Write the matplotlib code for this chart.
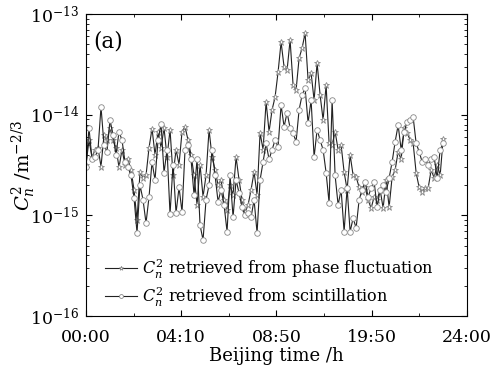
import matplotlib
matplotlib.use("Agg")
import matplotlib.pyplot as plt
from matplotlib.ticker import MultipleLocator
import numpy as np

# Cn2 values in units of 1e-15 m^-2/3
phase = [3.2, 5.6, 3.8, 4.5, 4.7, 3.05, 6.3, 5.6, 7.4, 5.6,
         4.7, 3.0, 4.5, 3.2, 3.6, 2.83, 1.8, 0.90, 2.7, 2.36,
         2.5, 4.7, 7.3, 4.0, 6.8, 4.7, 7.4, 3.8, 7.1, 2.5,
         4.5, 3.2, 6.8, 7.6, 5.6, 4.0, 2.5, 1.27, 3.2, 1.53,
         2.5, 7.1, 3.8, 2.83, 2.0, 2.25, 1.43, 1.13, 2.0, 1.6,
         3.8, 2.25, 1.43, 1.08, 1.27, 1.8, 2.7, 1.6, 6.6, 4.5,
         13.4, 6.8, 11.2, 15.0, 26.6, 52.8, 29.8, 27.8, 55.2, 19.7,
         17.6, 36.5, 45.9, 64.7, 22.1, 25.9, 14.0, 32.6, 15.7, 8.9,
         19.7, 5.2, 5.0, 6.8, 4.5, 5.0, 2.7, 1.8, 4.0, 2.5,
         2.42, 1.9, 1.71, 1.9, 1.43, 1.18, 1.53, 1.43, 1.8, 1.18,
         2.25, 1.21, 2.42, 2.83, 4.3, 3.6, 7.4, 6.6, 5.6, 5.2,
         2.65, 1.9, 1.71, 1.87, 1.87, 2.83, 2.36, 3.2, 2.5, 5.8]

scint = [3.0, 7.4, 3.6, 3.8, 4.5, 12.0, 5.0, 4.3, 8.9, 6.3,
         4.0, 6.8, 5.6, 3.4, 3.0, 2.5, 1.5, 0.67, 2.0, 1.43,
         0.84, 1.53, 3.4, 2.25, 5.6, 8.1, 2.65, 4.5, 1.03, 3.2,
         1.06, 1.9, 1.08, 4.5, 5.0, 3.6, 1.6, 3.6, 0.80, 0.57,
         1.43, 2.0, 4.5, 2.5, 1.37, 1.8, 1.27, 0.69, 2.5, 0.96,
         2.25, 1.67, 1.21, 1.01, 1.06, 0.96, 1.43, 0.67, 2.25, 3.4,
         5.2, 3.6, 4.5, 5.6, 4.8, 12.5, 7.6, 10.5, 7.4, 6.6,
         5.4, 11.2, 15.7, 18.4, 8.3, 14.0, 3.8, 7.1, 5.6, 4.5,
         2.65, 1.33, 14.0, 2.5, 1.27, 1.8, 0.69, 1.87, 0.69, 0.94,
         0.75, 1.43, 1.8, 2.15, 1.53, 1.87, 2.15, 1.21, 1.8, 2.0,
         1.71, 2.36, 3.4, 5.4, 7.9, 4.5, 6.8, 8.5, 8.9, 9.5,
         5.2, 4.3, 3.4, 3.6, 3.2, 3.6, 3.8, 2.36, 4.5, 5.2]

phase = np.array(phase) * 1e-15
scint = np.array(scint) * 1e-15
t = np.linspace(0, 22.5, len(phase))

xtick_pos = [0, 6, 12, 18, 24]
xtick_labels = ['00:00', '04:10', '08:50', '19:50', '24:00']

plt.rcParams['font.family'] = 'DejaVu Serif'
plt.rcParams['mathtext.fontset'] = 'dejavuserif'

fig = plt.figure(figsize=(4.9, 3.71), dpi=100)
ax = fig.add_axes([0.1755, 0.148, 0.7775, 0.814])

ax.plot(t, phase, '-', color='#222222', lw=0.8, marker='*', ms=4.5,
        mfc='white', mec='#888888', mew=0.6,
        label=r'$C_n^2$ retrieved from phase fluctuation')
ax.plot(t, scint, '-', color='#222222', lw=0.8, marker='o', ms=4,
        mfc='white', mec='#888888', mew=0.6,
        label=r'$C_n^2$ retrieved from scintillation')

ax.set_yscale('log')
ax.set_ylim(1e-16, 1e-13)
ax.set_xlim(0, 24)
ax.set_xticks(xtick_pos)
ax.set_xticklabels(xtick_labels)
ax.xaxis.set_minor_locator(MultipleLocator(3))

ax.tick_params(which='both', direction='in', top=True, right=True, labelsize=12.5)
ax.tick_params(which='major', length=4)
ax.tick_params(which='minor', length=2.5)
ax.tick_params(axis='x', which='major', pad=9)
ax.tick_params(axis='y', which='major', pad=5)

ax.set_xlabel('Beijing time /h', fontsize=13, labelpad=1)
ax.set_ylabel(r'$C_n^2$ /m$^{-2/3}$', fontsize=14)
ax.yaxis.set_label_coords(-0.125, 0.5)
ax.text(0.018, 0.89, '(a)', transform=ax.transAxes, fontsize=15.5)

ax.legend(loc='lower left', frameon=False, fontsize=11.5, handlelength=2,
          handletextpad=0.3, borderaxespad=0.3, labelspacing=0.3,
          markerscale=0.7, bbox_to_anchor=(0.02, -0.012))

plt.savefig('out.png', dpi=100)
